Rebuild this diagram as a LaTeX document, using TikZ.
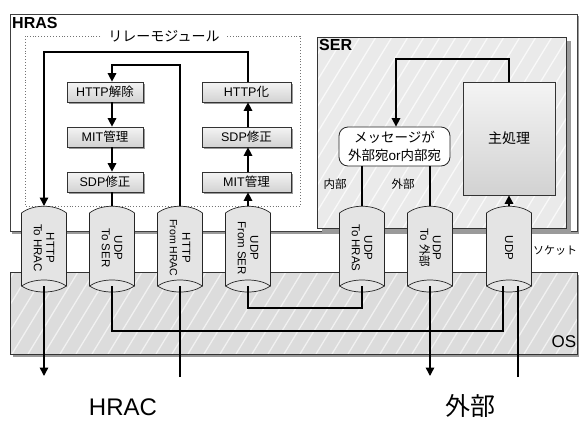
\documentclass[tikz,border=0pt]{standalone}
\usepackage{fontspec}
\setmainfont{Liberation Sans}
\newfontfamily\jp{Noto Sans CJK JP}
\usetikzlibrary{arrows.meta,shadows}
\definecolor{cylfill}{HTML}{E4E4E4}
\definecolor{osfill}{HTML}{DCDCDC}
\definecolor{serfill}{HTML}{EAEAEA}
\definecolor{shadowc}{HTML}{9A9A9A}
\definecolor{boxtop}{HTML}{F4F4F4}
\definecolor{boxbot}{HTML}{D2D2D2}
\tikzset{
  conn/.style={line width=1.5pt},
  arr/.style={conn,-{Triangle[width=8.5pt,length=8.5pt]}},
  procbox/.style={draw=black!80,line width=0.7pt,top color=boxtop,bottom color=boxbot,
    minimum height=20pt,inner sep=0pt,font=\fontsize{12.5}{14}\selectfont,
    drop shadow={shadow xshift=2pt,shadow yshift=-2pt,fill=shadowc,opacity=1}},
  procL/.style={procbox,minimum width=76pt},
  procR/.style={procbox,minimum width=89pt},
  cylstyle/.style={draw=black!85,line width=0.7pt,fill=cylfill},
  cylline/.style={draw=black!85,line width=0.7pt},
  cyltext/.style={rotate=-90,align=center,font=\fontsize{11.5}{12.5}\selectfont,inner sep=0pt},
  titletext/.style={font=\bfseries\fontsize{16}{17}\selectfont,inner sep=0pt,anchor=west},
  lbl/.style={font=\fontsize{12}{14}\selectfont,inner sep=0pt},
  big/.style={font=\fontsize{24}{26}\selectfont,inner sep=0pt},
  hatchline/.style={line width=1.3pt},
}
\newcommand\mkcyl[3]{%
  \filldraw[cylstyle] (#2-22.5,213) .. controls (#2-11,204) and (#2+11,204) .. (#2+22.5,213)
     -- (#2+22.5,286) .. controls (#2+11,294) and (#2-11,294) .. (#2-22.5,286) -- cycle;
  \draw[cylline] (#2-22.5,286) .. controls (#2-11,278) and (#2+11,278) .. (#2+22.5,286);
  \node[cyltext] (#1) at (#2,248) {#3};
  \coordinate (#1top) at (#2,206);
  \coordinate (#1bot) at (#2,286);
}
\begin{document}
\begin{tikzpicture}[x=1pt,y=-1pt]
\useasboundingbox (0,0) rectangle (579,421);
% HRAS box
\fill[shadowc] (12,16) rectangle (579,234);
\filldraw[draw=black!75,line width=0.8pt,fill=white] (10,14) rectangle (577,231);
\node[titletext] (hras) at (12,23) {HRAS};
% relay module dotted box
\draw[black!55,dotted,line width=0.9pt] (25,36) rectangle (300,206);
\node[lbl,fill=white,inner xsep=6pt,inner ysep=2pt,font=\jp\fontsize{14}{15}\selectfont] (relay) at (164,36) {リレーモジュール};
% SER box
\fill[shadowc] (322,41) rectangle (571,233);
\fill[serfill] (317,37) rectangle (566,228);
\begin{scope}
  \clip (317,37) rectangle (566,228);
  \foreach \i in {200,216,...,720} \draw[white!70!serfill,hatchline] (\i,37) -- ++(-120,196);
\end{scope}
\draw[black!80,line width=0.8pt] (317,37) rectangle (566,228);
\node[titletext] (ser) at (319,45) {SER};
% OS box
\fill[shadowc] (13,275) rectangle (579,357);
\fill[osfill] (10,272) rectangle (577,354);
\begin{scope}
  \clip (10,272) rectangle (577,354);
  \foreach \i in {-100,-84,...,640} \draw[white!60!osfill,hatchline] (\i,354) -- ++(50,-82);
\end{scope}
\draw[black!80,line width=0.8pt] (10,272) rectangle (577,354);
\node[font=\fontsize{17}{18}\selectfont,inner sep=0pt] (os) at (564,342) {OS};
\node[font=\jp\fontsize{11}{12}\selectfont,inner sep=0pt] (sock) at (555,251) {ソケット};
% processing boxes
\node[procL] (h1) at (105,92) {HTTP{\jp 解除}};
\node[procL] (m1) at (105,137) {MIT{\jp 管理}};
\node[procL] (s1) at (105,182) {SDP{\jp 修正}};
\node[procR] (h2) at (246.5,92) {HTTP{\jp 化}};
\node[procR] (s2) at (246.5,137) {SDP{\jp 修正}};
\node[procR] (m2) at (246.5,182) {MIT{\jp 管理}};
% SER nodes
\node[draw=black!80,line width=0.7pt,top color=boxtop,bottom color=boxbot,minimum width=92pt,minimum height=113pt,inner sep=0pt,
  font=\jp\fontsize{14}{15}\selectfont] (main) at (509,138.5) {主処理};
\node[draw=black!85,line width=0.8pt,fill=white,rounded corners=9pt,minimum width=111pt,minimum height=39pt,inner sep=0pt,
  align=center,font=\fontsize{13.5}{18}\selectfont] (dec) at (394.5,146.5) {{\jp メッセージが}\\{\jp 外部宛}or{\jp 内部宛}};
\node[lbl,font=\jp\fontsize{11.5}{13}\selectfont] (lin) at (335,184) {内部};
\node[lbl,font=\jp\fontsize{11.5}{13}\selectfont] (lout) at (403,184) {外部};
% cylinders
\mkcyl{c1}{44}{HTTP\\To HRAC}
\mkcyl{c2}{112}{UDP\\To SER}
\mkcyl{c3}{180}{HTTP\\{\fontsize{10.5}{11}\selectfont From HRAC}}
\mkcyl{c4}{248}{UDP\\From SER}
\mkcyl{c5}{362}{UDP\\To HRAS}
\mkcyl{c6}{430}{UDP\\To {\jp 外部}}
\mkcyl{c7}{509}{UDP}
\coordinate (c7botL) at (503,286);
\coordinate (c7botR) at (518,286);
% coordinates for connectors
\coordinate (pA) at (112,65);
\coordinate (pB) at (44,52);
\coordinate (pC) at (396,59);
\coordinate (busA) at (503,331);
\coordinate (busB) at (362,308);
\coordinate (hracout) at (44,376);
\coordinate (hracin) at (180,377);
\coordinate (extout) at (430,376);
\coordinate (extin) at (518,377);
% relay connectors
\draw[arr] (c3top) |- (pA) -- (h1.north -| pA);
\draw[arr] (h1.south -| pA) -- (m1.north -| pA);
\draw[arr] (m1.south -| pA) -- (s1.north -| pA);
\draw[conn] (s1.south -| pA) -- (c2top);
\draw[arr] (c4top) -- (m2.south -| c4top);
\draw[arr] (m2.north -| c4top) -- (s2.south -| c4top);
\draw[arr] (s2.north -| c4top) -- (h2.south -| c4top);
\draw[arr] (h2.north -| c4top) |- (pB) -- (c1top);
% SER connectors
\draw[arr] (main.north) |- (pC) -- (dec.north -| pC);
\draw[conn] (dec.south -| c5top) -- (c5top);
\draw[conn] (dec.south -| c6top) -- (c6top);
\draw[arr] (c7top) -- (main.south);
% OS connectors
\draw[arr] (c1bot) -- (hracout);
\draw[conn] (hracin) -- (c3bot);
\draw[conn] (c2bot) |- (busA) -- (c7botL);
\draw[conn] (c4bot) |- (busB) -- (c5bot);
\draw[arr] (c6bot) -- (extout);
\draw[conn] (extin) -- (c7botR);
% outside labels
\node[big] (hrac) at (123,407) {HRAC};
\node[big,font=\jp\fontsize{25}{27}\selectfont] (ext) at (470,406) {外部};
\end{tikzpicture}
\end{document}
